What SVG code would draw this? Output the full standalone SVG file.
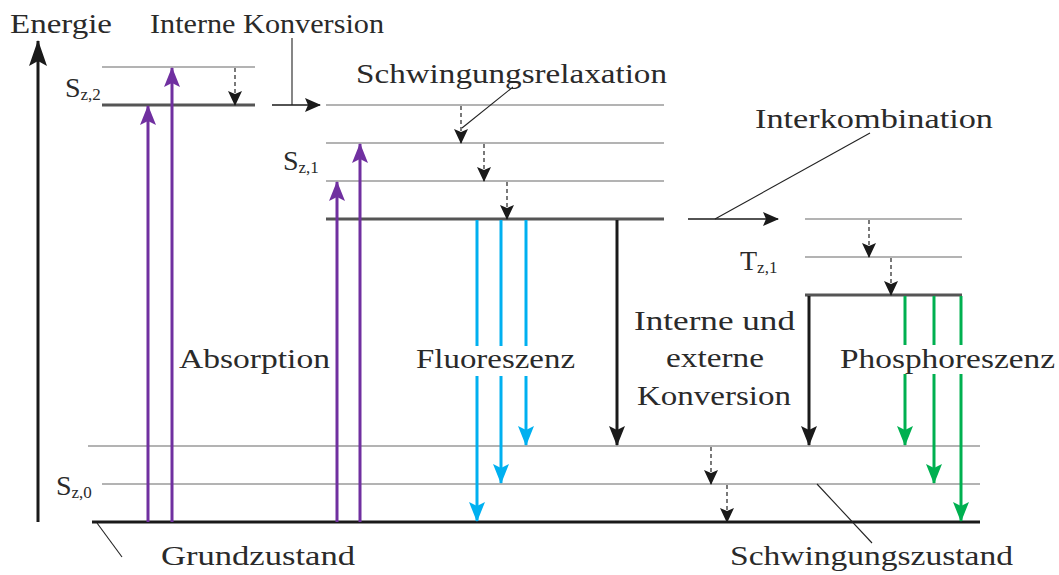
<svg xmlns="http://www.w3.org/2000/svg" width="1059" height="575" viewBox="0 0 1059 575">
<style>
text{font-family:"Liberation Serif","Times New Roman",serif;font-size:28px;fill:#2a2a2a}
.sub{font-size:17px}
.thin{stroke:#9a9a9a;stroke-width:1.6;fill:none}
.thick{stroke:#555;stroke-width:3;fill:none}
.base{stroke:#1a1a1a;stroke-width:3;fill:none}
.lead{stroke:#222;stroke-width:1.1;fill:none}
.dash{stroke:#222;stroke-width:1.2;stroke-dasharray:4,3;fill:none;marker-end:url(#ms)}
.pur{stroke:#7030a0;stroke-width:3;fill:none;marker-end:url(#mp)}
.cya{stroke:#00b0f0;stroke-width:3;fill:none;marker-end:url(#mc)}
.grn{stroke:#00b050;stroke-width:3;fill:none;marker-end:url(#mg)}
.blk{stroke:#1a1a1a;stroke-width:3;fill:none;marker-end:url(#mb)}
.blk1{stroke:#1a1a1a;stroke-width:1.3;fill:none;marker-end:url(#mk)}
</style>
<defs>
<marker id="mp" markerUnits="userSpaceOnUse" viewBox="0 0 20 16" refX="19" refY="8" markerWidth="20" markerHeight="16" orient="auto"><path d="M0,0 L20,8 L0,16 L4,8 z" fill="#7030a0"/></marker>
<marker id="mc" markerUnits="userSpaceOnUse" viewBox="0 0 20 16" refX="19" refY="8" markerWidth="20" markerHeight="16" orient="auto"><path d="M0,0 L20,8 L0,16 L4,8 z" fill="#00b0f0"/></marker>
<marker id="mg" markerUnits="userSpaceOnUse" viewBox="0 0 20 16" refX="19" refY="8" markerWidth="20" markerHeight="16" orient="auto"><path d="M0,0 L20,8 L0,16 L4,8 z" fill="#00b050"/></marker>
<marker id="mb" markerUnits="userSpaceOnUse" viewBox="0 0 20 16" refX="19" refY="8" markerWidth="20" markerHeight="16" orient="auto"><path d="M0,0 L20,8 L0,16 L4,8 z" fill="#1a1a1a"/></marker>
<marker id="ma" markerUnits="userSpaceOnUse" viewBox="0 0 26 18" refX="25" refY="9" markerWidth="26" markerHeight="18" orient="auto"><path d="M0,0 L26,9 L0,18 L5,9 z" fill="#1a1a1a"/></marker>
<marker id="mk" markerUnits="userSpaceOnUse" viewBox="0 0 16 14" refX="15" refY="7" markerWidth="16" markerHeight="14" orient="auto"><path d="M0,0 L16,7 L0,14 L3,7 z" fill="#1a1a1a"/></marker>
<marker id="ms" markerUnits="userSpaceOnUse" viewBox="0 0 15 14" refX="14" refY="7" markerWidth="15" markerHeight="14" orient="auto"><path d="M0,0 L15,7 L0,14 L3,7 z" fill="#1a1a1a"/></marker>
</defs>
<rect width="1059" height="575" fill="#fff"/>

<g id="axis">
<line x1="38" y1="522" x2="38" y2="41" stroke="#1a1a1a" stroke-width="3" marker-end="url(#ma)"/>
<text x="10" y="33" textLength="102" lengthAdjust="spacingAndGlyphs">Energie</text>
</g>

<g id="sz2">
<line class="thin" x1="102" y1="67" x2="255" y2="67"/>
<line class="thick" x1="102" y1="105" x2="255" y2="105"/>
<text x="65" y="97">S<tspan class="sub" dy="3">z,2</tspan></text>
</g>

<g id="sz1">
<line class="thin" x1="326" y1="105" x2="664" y2="105"/>
<line class="thin" x1="326" y1="143" x2="664" y2="143"/>
<line class="thin" x1="326" y1="181" x2="664" y2="181"/>
<line class="thick" x1="326" y1="219" x2="664" y2="219"/>
<text x="283" y="170">S<tspan class="sub" dy="3">z,1</tspan></text>
</g>

<g id="tz1">
<line class="thin" x1="805" y1="219" x2="962" y2="219"/>
<line class="thin" x1="805" y1="257" x2="962" y2="257"/>
<line class="thick" x1="805" y1="295" x2="962" y2="295"/>
<text x="740" y="270">T<tspan class="sub" dy="3">z,1</tspan></text>
</g>

<g id="sz0">
<line class="thin" x1="88" y1="446" x2="980" y2="446"/>
<line class="thin" x1="102" y1="484" x2="980" y2="484"/>
<line class="base" x1="92" y1="522" x2="980" y2="522"/>
<text x="56" y="495">S<tspan class="sub" dy="3">z,0</tspan></text>
</g>

<g id="connectors">
<line class="pur" x1="148" y1="522" x2="148" y2="106"/>
<line class="pur" x1="172" y1="522" x2="172" y2="68"/>
<line class="pur" x1="337" y1="522" x2="337" y2="182"/>
<line class="pur" x1="360" y1="522" x2="360" y2="144"/>
<line class="dash" x1="235" y1="68" x2="235" y2="105"/>
<line class="dash" x1="461" y1="106" x2="461" y2="143"/>
<line class="dash" x1="484" y1="144" x2="484" y2="181"/>
<line class="dash" x1="507" y1="182" x2="507" y2="219"/>
<line class="dash" x1="869" y1="220" x2="869" y2="257"/>
<line class="dash" x1="891" y1="258" x2="891" y2="295"/>
<line class="dash" x1="711" y1="447" x2="711" y2="484"/>
<line class="dash" x1="727" y1="485" x2="727" y2="522"/>
<line class="blk1" x1="272" y1="105" x2="320" y2="105"/>
<line class="blk1" x1="688" y1="219" x2="778" y2="219"/>
<line class="cya" x1="477" y1="220" x2="477" y2="521"/>
<line class="cya" x1="501" y1="220" x2="501" y2="483"/>
<line class="cya" x1="526" y1="220" x2="526" y2="445"/>
<line class="blk" x1="617" y1="220" x2="617" y2="445"/>
<line class="blk" x1="809" y1="296" x2="809" y2="445"/>
<line class="grn" x1="905" y1="296" x2="905" y2="445"/>
<line class="grn" x1="934" y1="296" x2="934" y2="483"/>
<line class="grn" x1="961" y1="296" x2="961" y2="521"/>
<line class="lead" x1="292" y1="38" x2="292" y2="105"/>
<line class="lead" x1="513" y1="87" x2="462" y2="128"/>
<line class="lead" x1="715" y1="219" x2="870" y2="133"/>
<line class="lead" x1="97" y1="523" x2="122" y2="557"/>
<line class="lead" x1="817" y1="484" x2="872" y2="543"/>
</g>

<g id="labels">
<text x="150" y="33" textLength="234" lengthAdjust="spacingAndGlyphs">Interne Konversion</text>
<text x="356" y="83" textLength="311" lengthAdjust="spacingAndGlyphs">Schwingungsrelaxation</text>
<text x="755" y="128" textLength="238" lengthAdjust="spacingAndGlyphs">Interkombination</text>
<text x="179" y="368" textLength="151" lengthAdjust="spacingAndGlyphs">Absorption</text>
<g id="fluoreszenz">
<rect x="414" y="346" width="164" height="30" fill="#fff"/>
<text x="416" y="368" textLength="159" lengthAdjust="spacingAndGlyphs">Fluoreszenz</text>
</g>
<g id="konversion">
<text x="634" y="330" textLength="161" lengthAdjust="spacingAndGlyphs">Interne und</text>
<text x="666" y="367" textLength="98" lengthAdjust="spacingAndGlyphs">externe</text>
<text x="637" y="405" textLength="154" lengthAdjust="spacingAndGlyphs">Konversion</text>
</g>
<g id="phosphoreszenz">
<rect x="838" y="345" width="221" height="29" fill="#fff"/>
<text x="840" y="368" textLength="215" lengthAdjust="spacingAndGlyphs">Phosphoreszenz</text>
</g>
<text x="161" y="565" textLength="194" lengthAdjust="spacingAndGlyphs">Grundzustand</text>
<text x="730" y="565" textLength="283" lengthAdjust="spacingAndGlyphs">Schwingungszustand</text>
</g>
</svg>
